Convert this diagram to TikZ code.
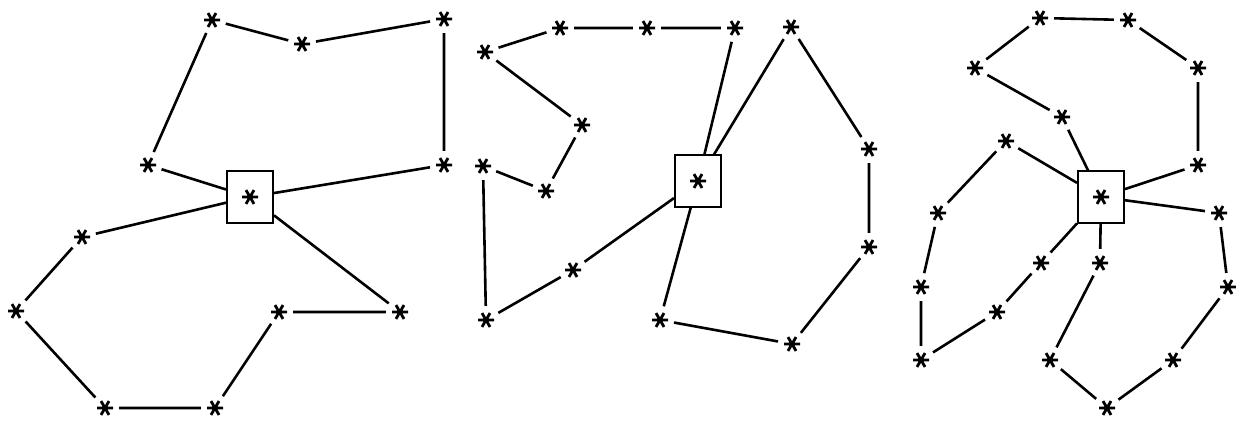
\documentclass[tikz,border=0pt]{standalone}
\usepackage{tikz}

\tikzset{
  cust/.style={circle, minimum size=28pt, inner sep=0pt,
    path picture={\draw[line width=2.8pt, shift={(path picture bounding box.center)}]
      (-8pt,0) -- (8pt,0) (60:8pt) -- (240:8pt) (120:8pt) -- (300:8pt);}},
  depot/.style={draw, line width=2pt, minimum width=46pt, minimum height=51pt, inner sep=0pt,
    path picture={\draw[line width=2.8pt, shift={(path picture bounding box.center)}, shift={(-3pt,7pt)}]
      (-8pt,0) -- (8pt,0) (60:8pt) -- (240:8pt) (120:8pt) -- (300:8pt);}},
  route/.style={line width=2.6pt}
}

\begin{document}
\begin{tikzpicture}[x=1pt, y=-1pt]

\useasboundingbox (0,0) rectangle (1236,422);

% First solution
\node[depot] (d1) at (250,197) {};
\foreach \n/\x/\y in {a1/212/20, a2/302/44, a3/444/19, a4/444/165, a5/148/165,
    a6/82/237, a7/16/311, a8/105/408, a9/215/408, a10/279/312, a11/400/312}
  \node[cust] (\n) at (\x,\y) {};

\draw[route] (d1) -- (a5) -- (a1) -- (a2) -- (a3) -- (a4) -- (d1);
\draw[route] (d1) -- (a6) -- (a7) -- (a8) -- (a9) -- (a10) -- (a11) -- (d1);

% Second solution
\node[depot] (d2) at (698,181) {};
\foreach \n/\x/\y in {b1/485/52, b2/560/28, b3/647/28, b4/735/28, b5/791/27,
    b6/582/125, b7/483/166, b8/546/191, b9/486/320, b10/573/270,
    b11/869/149, b12/869/247, b13/792/344, b14/660/320}
  \node[cust] (\n) at (\x,\y) {};

\draw[route] (d2) -- (b4) -- (b3) -- (b2) -- (b1) -- (b6) -- (b8) -- (b7) -- (b9) -- (b10) -- (d2);
\draw[route] (d2) -- (b5) -- (b11) -- (b12) -- (b13) -- (b14) -- (d2);

% Third solution
\node[depot] (d3) at (1101,197) {};
\foreach \n/\x/\y in {c1/1040/18, c2/1128/20, c3/975/68, c4/1198/68, c5/1062/117,
    c6/1006/141, c7/1198/165, c8/938/213, c9/1219/213, c10/1041/263,
    c11/1100/263, c12/921/287, c13/1228/287, c14/997/312, c15/921/360,
    c16/1050/360, c17/1173/360, c18/1107/408}
  \node[cust] (\n) at (\x,\y) {};

\draw[route] (d3) -- (c5) -- (c3) -- (c1) -- (c2) -- (c4) -- (c7) -- (d3);
\draw[route] (d3) -- (c6) -- (c8) -- (c12) -- (c15) -- (c14) -- (c10) -- (d3);
\draw[route] (d3) -- (c11) -- (c16) -- (c18) -- (c17) -- (c13) -- (c9) -- (d3);

\end{tikzpicture}
\end{document}
